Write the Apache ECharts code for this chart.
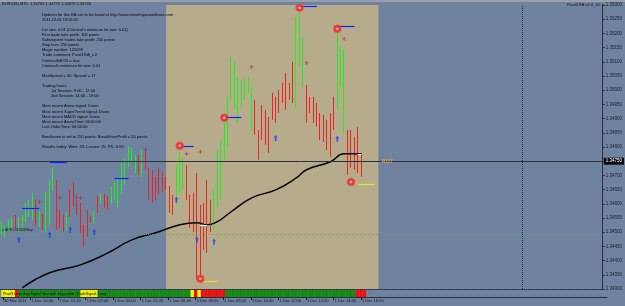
<!DOCTYPE html>
<html>
<head>
<meta charset="utf-8">
<script src="https://cdn.jsdelivr.net/npm/echarts@6/dist/echarts.min.js"></script>
<style>
html, body { margin: 0; padding: 0; background: #6f829f; }
#chart { width: 625px; height: 306px; }
</style>
</head>
<body>
<div id="chart"></div>
<script>
// EURUSD M15 bars
var tickLabels = ['30 Nov 2011', '1 Dec 00:00', '1 Dec 01:20', '1 Dec 02:40', '1 Dec 04:00', '1 Dec 05:20', '1 Dec 06:40',
    '1 Dec 08:00', '1 Dec 09:20', '1 Dec 10:40', '1 Dec 12:00', '1 Dec 13:20', '1 Dec 14:40', '1 Dec 16:00'];

var opens = [1.34501,1.34494,1.34515,1.34523,1.34547,1.34508,1.34523,1.34551,1.34572,1.34561,
    1.34603,1.34530,1.34558,1.34515,1.34596,1.34663,1.34670,1.34565,1.34544,1.34519,
    1.34635,1.34663,1.34614,1.34589,1.34515,1.34565,1.34551,1.34540,1.34618,1.34607,
    1.34625,1.34618,1.34611,1.34625,1.34614,1.34649,1.34684,1.34744,1.34758,1.34720,
    1.34762,1.34709,1.34772,1.34713,1.34702,1.34684,1.34713,1.34699,1.34688,1.34653,
    1.34618,1.34614,1.34656,1.34667,1.34727,1.34618,1.34625,1.34684,1.34561,1.34579,
    1.34649,1.34596,1.34523,1.34614,1.34649,1.34772,1.34825,1.34984,1.34966,1.34903,
    1.34955,1.34980,1.35001,1.34878,1.34952,1.34850,1.34938,1.34920,1.34896,1.34980,
    1.34966,1.34991,1.35015,1.35047,1.35015,1.35086,1.34966,1.35107,1.35036,1.35008,
    1.34970,1.34966,1.34945,1.34910,1.34903,1.34885,1.34906,1.34966,1.34952,1.35029,
    1.34867,1.34850,1.34846,1.34825,1.34860,1.34769];
var closes = [1.34526,1.34515,1.34537,1.34544,1.34519,1.34547,1.34554,1.34593,1.34603,1.34625,
    1.34537,1.34568,1.34515,1.34628,1.34667,1.34713,1.34523,1.34526,1.34512,1.34561,
    1.34565,1.34600,1.34572,1.34508,1.34463,1.34498,1.34540,1.34561,1.34579,1.34628,
    1.34596,1.34589,1.34649,1.34667,1.34677,1.34730,1.34748,1.34790,1.34787,1.34762,
    1.34713,1.34776,1.34730,1.34628,1.34621,1.34632,1.34649,1.34656,1.34660,1.34582,
    1.34579,1.34720,1.34765,1.34748,1.34628,1.34530,1.34515,1.34385,1.34420,1.34456,
    1.34473,1.34515,1.34632,1.34772,1.34808,1.34878,1.34959,1.35100,1.35079,1.35029,
    1.35022,1.35029,1.35036,1.34994,1.34860,1.34769,1.34839,1.34825,1.34797,1.34910,
    1.34896,1.34931,1.34966,1.34945,1.34977,1.34973,1.35241,1.35258,1.35170,1.34896,
    1.34927,1.34896,1.34882,1.34836,1.34832,1.34801,1.34783,1.34875,1.35184,1.35142,
    1.35124,1.34720,1.34737,1.34730,1.34727,1.34706];
var lows = [1.34491,1.34480,1.34508,1.34515,1.34508,1.34498,1.34515,1.34537,1.34554,1.34544,
    1.34523,1.34519,1.34508,1.34498,1.34526,1.34649,1.34508,1.34515,1.34501,1.34508,
    1.34554,1.34589,1.34561,1.34498,1.34449,1.34484,1.34533,1.34530,1.34568,1.34600,
    1.34586,1.34579,1.34600,1.34614,1.34589,1.34632,1.34667,1.34730,1.34748,1.34709,
    1.34702,1.34695,1.34720,1.34614,1.34603,1.34614,1.34632,1.34642,1.34649,1.34568,
    1.34561,1.34596,1.34639,1.34649,1.34614,1.34515,1.34501,1.34332,1.34339,1.34438,
    1.34427,1.34501,1.34508,1.34589,1.34614,1.34755,1.34801,1.34966,1.34931,1.34885,
    1.34941,1.34966,1.34991,1.34860,1.34843,1.34755,1.34825,1.34808,1.34779,1.34896,
    1.34885,1.34920,1.34955,1.34931,1.34966,1.34955,1.34941,1.35082,1.35012,1.34885,
    1.34920,1.34885,1.34871,1.34825,1.34818,1.34790,1.34765,1.34860,1.34931,1.35012,
    1.34850,1.34702,1.34727,1.34720,1.34709,1.34695];
var highs = [1.34537,1.34526,1.34544,1.34551,1.34561,1.34554,1.34561,1.34603,1.34614,1.34639,
    1.34614,1.34579,1.34565,1.34642,1.34684,1.34727,1.34684,1.34579,1.34561,1.34572,
    1.34649,1.34677,1.34632,1.34603,1.34526,1.34579,1.34558,1.34572,1.34628,1.34635,
    1.34635,1.34628,1.34660,1.34677,1.34691,1.34744,1.34762,1.34801,1.34797,1.34772,
    1.34772,1.34790,1.34783,1.34727,1.34720,1.34695,1.34727,1.34713,1.34695,1.34663,
    1.34632,1.34737,1.34783,1.34762,1.34737,1.34632,1.34639,1.34709,1.34596,1.34603,
    1.34684,1.34614,1.34649,1.34790,1.34825,1.34896,1.34977,1.35117,1.35100,1.35047,
    1.35036,1.35043,1.35047,1.35008,1.34966,1.34860,1.34948,1.34931,1.34906,1.34991,
    1.34977,1.35001,1.35026,1.35061,1.35026,1.35100,1.35258,1.35272,1.35188,1.35019,
    1.34977,1.34977,1.34955,1.34920,1.34913,1.34896,1.34920,1.34977,1.35202,1.35153,
    1.35142,1.34860,1.34860,1.34836,1.34871,1.34779];

// moving average, [bar, price]
var maPoints = [[6,1.34304],[14,1.34357],[23,1.34385],[31,1.34427],[38,1.34473],[45,1.34498],[52,1.34526],
    [57,1.34533],[60,1.34526],[63,1.34537],[67,1.34572],[73,1.34621],[80,1.34649],[86,1.34691],
    [89,1.34720],[96,1.34748],[100,1.34776],[105,1.34776]];
var maWhite = [[[58,1.34526],[60,1.34526]], [[104,1.34776],[105,1.34776]]];

// signal markers
var circles = [[52,1.34804],[65,1.34903],[87,1.35290],[98,1.35216],[58,1.34336],[102,1.34677]];
var upArrows = [[5,1.34473],[14,1.34491],[20,1.34508],[27,1.34501],[51,1.34614],[57,1.34473],[62,1.34466],[80,1.34832],[98,1.34829]];
var crosses = [[11,1.34607],[17,1.34621],[23,1.34621],[42,1.34790],[54,1.34776],[58,1.34783],[73,1.35082],[89,1.35096],[100,1.35181]];
// [from bar, to bar, price]
var blueLines = [[6,11,1.34586],[14,19,1.34748],[33,37,1.34691],[52,56,1.34804],[65,70,1.34906],[87,92,1.35297],[98,103,1.35226]];
var yellowLines = [[59,63,1.34329],[104,109,1.34670]];

var bidPrice = 1.34750;
var pivotPrice = 1.34494;
var separatorBar = 152;
var sessionBars = [48, 110];

// status strip: [from bar, to bar, state]
var stripSegments = [[0,3,'y'],[4,4,'r'],[5,22,'g'],[23,27,'y'],[28,54,'g'],[55,55,'y'],[56,56,'r'],
    [57,57,'y'],[58,64,'r'],[65,102,'g'],[103,105,'r']];

var infoLines = [
    'Updates for this EA are to be found at http://www.stevehopwoodforex.com',
    '2011.12.01 19:05:05',
    '',
    "Lot size: 0.01 (Criminal's minimum lot size: 0.01)",
    'First trade take profit: 100 points',
    'Subsequent trades take profit: 200 points',
    'Stop loss: 250 points',
    'Magic number: 125599',
    'Trade comment: Pivot3 EA_v.2',
    'CriminalIsECN = true',
    "Criminal's minimum lot size: 0.01",
    '',
    'MaxSpread = 40: Spread = 17',
    '',
    'Trading hours',
    '        1st Session: 9:00 - 12:00',
    '        2nd Session: 14:00 - 19:00',
    '',
    'Most recent Arrow signal: Down',
    'Most recent SuperTrend signal: Down',
    'Most recent MACD signal: Down',
    'Most recent ArrowTime: 00:00:00',
    'Last OrderTime: 00:00:00',
    '',
    'Breakeven is set to 150 points: BreakEvenProfit = 50 points',
    '',
    'Results today: Wins: 23: Losses: 25: P/L: 0.90'
];

var N = 176;
var cats = [];
for (var i = 0; i < N; i++) cats.push(i);

var ohlc = opens.map(function (o, i) { return [o, closes[i], lows[i], highs[i]]; });

var stripColors = { g: '#138a13', y: '#f4f400', r: '#f01010' };
var stripData = [];
stripSegments.forEach(function (s) {
    for (var k = s[0]; k <= s[1]; k++) stripData[k] = { value: 1, itemStyle: { color: stripColors[s[2]] } };
});

function segs(list, color) {
    return list.map(function (s) {
        return [{ coord: [s[0], s[2]], lineStyle: { color: color } }, { coord: [s[1], s[2]] }];
    });
}

var font = 'Liberation Sans';
var chart = echarts.init(document.getElementById('chart'));

var option = {
    animation: false,
    backgroundColor: '#6f829f',
    grid: [
        { left: 0, right: 18, top: 5, bottom: 17 },
        { left: 0, right: 18, top: 290, height: 7 }
    ],
    xAxis: [{
        type: 'category', data: cats, gridIndex: 0,
        axisLine: { show: true, lineStyle: { color: '#2a2d3a', type: 'dotted' } },
        axisTick: { show: false }, axisLabel: { show: false }
    }, {
        type: 'category', data: cats, gridIndex: 1,
        axisLine: { show: true, lineStyle: { color: '#2a2d3a' } },
        axisTick: {
            show: true, alignWithLabel: true, length: 3, lineStyle: { color: '#1a1a2a' },
            interval: function (idx) { return idx % 8 === 0 && idx / 8 < tickLabels.length; }
        },
        axisLabel: {
            fontSize: 4, color: '#15151f', margin: 2, align: 'left', fontFamily: font,
            interval: function (idx) { return idx % 8 === 0 && idx / 8 < tickLabels.length; },
            formatter: function (v, idx) { return ' ' + (tickLabels[idx / 8] || ''); }
        }
    }],
    yAxis: [{
        type: 'value', gridIndex: 0, position: 'right', min: 1.343, max: 1.353, interval: 0.0005,
        axisLine: { show: true, lineStyle: { color: '#2a2d3a' } },
        axisTick: { show: true, length: 2, lineStyle: { color: '#2a2d3a' } },
        splitLine: { show: false },
        axisLabel: { fontSize: 4.5, color: '#1c1c28', margin: 3, fontFamily: font,
            formatter: function (v) { return v.toFixed(5); } }
    }, {
        type: 'value', gridIndex: 1, min: 0, max: 1, show: false
    }],
    series: [{
        // session background
        type: 'line', data: [], z: 1, silent: true,
        markArea: { silent: true, itemStyle: { color: '#b6ac8c' },
            data: [[{ xAxis: sessionBars[0] }, { xAxis: sessionBars[1] }]] }
    }, {
        type: 'candlestick', data: ohlc, z: 3, barWidth: 1,
        itemStyle: { color: '#22ee22', color0: '#ee2222', borderColor: '#22ee22', borderColor0: '#ee2222', borderWidth: 1 }
    }, {
        type: 'line', data: maPoints, z: 4, symbol: 'none', smooth: true,
        lineStyle: { color: '#050505', width: 1.5 },
        // bid / pivot / separator lines
        markLine: {
            silent: true, symbol: 'none', precision: 5,
            data: [
                { yAxis: bidPrice, lineStyle: { color: '#2c2f3c', width: 1, type: 'solid' },
                  label: { show: true, position: 'end', distance: 1, formatter: bidPrice.toFixed(5),
                      backgroundColor: '#0c0c0c', color: '#ffffff', fontSize: 4.5, padding: [1, 2], fontFamily: font } },
                { yAxis: pivotPrice, lineStyle: { color: '#5aa068', width: 1, type: 'dotted', opacity: 0.75 }, label: { show: false } },
                { xAxis: separatorBar, lineStyle: { color: '#2c2f3c', width: 1, type: 'dotted' }, label: { show: false } }
            ]
        }
    }, {
        type: 'line', data: [], z: 5, silent: true,
        markLine: {
            silent: true, symbol: 'none', label: { show: false }, precision: 5,
            lineStyle: { width: 1.2, type: 'solid' },
            data: segs(blueLines, '#1020ff').concat(segs(yellowLines, '#e8e030'))
                .concat(maWhite.map(function (s) {
                    return [{ coord: s[0], lineStyle: { color: '#ffffff' } }, { coord: s[1] }];
                }))
        }
    }, {
        type: 'scatter', data: circles, z: 6, symbolSize: 8,
        itemStyle: { color: '#f02424', borderColor: '#ff5a5a', borderWidth: 0.5 }
    }, {
        type: 'scatter', data: circles, z: 7, symbolSize: 2.5,
        itemStyle: { color: '#c8e8b0' }
    }, {
        type: 'scatter', data: upArrows, z: 6, symbolSize: [4, 6],
        symbol: 'path://M5,0 L10,5 L7,5 L7,12 L3,12 L3,5 L0,5 Z',
        itemStyle: { color: '#2038ff' }
    }, {
        type: 'scatter', data: crosses, z: 6, symbolSize: 4,
        symbol: 'path://M4,0 L6,0 L6,4 L10,4 L10,6 L6,6 L6,10 L4,10 L4,6 L0,6 L0,4 L4,4 Z',
        itemStyle: { color: '#a83030' }
    }, {
        type: 'bar', xAxisIndex: 1, yAxisIndex: 1, data: stripData, barWidth: '100%', barGap: 0, z: 2
    }],
    graphic: [
        { type: 'rect', left: 0, top: 0, shape: { width: 625, height: 2 }, style: { fill: '#9aa0ab' }, z: 100 },
        { type: 'text', left: 2, top: 2, z: 100,
          style: { text: 'EURUSD,M15  1.34769 1.34779 1.34695 1.34706', fill: '#101018', font: '4px ' + font } },
        { type: 'text', right: 20, top: 3, z: 100,
          style: { text: 'Pivot3 EA v2.0_10 \u263A', fill: '#101018', font: '4px ' + font } },
        { type: 'text', left: 42, top: 12, z: 100,
          style: { text: infoLines.join('\n'), fill: '#05050a', font: '4px ' + font, lineHeight: 5.1 } },
        { type: 'text', left: 2, top: 228, z: 100,
          style: { text: '= APS 1.34508 Buy', fill: '#101018', font: '3.5px ' + font } },
        { type: 'text', left: 382, top: 159, z: 100,
          style: { text: 'R127', fill: '#f0a020', font: 'bold 4.5px ' + font } },
        { type: 'text', left: 3, top: 291.5, z: 100,
          style: { text: 'Pivot3 Line: Avg Signal Strength: Upgraded  TradeSignal: Long', fill: '#111111', font: '3.7px ' + font } }
    ]
};

chart.setOption(option);
</script>
</body>
</html>
